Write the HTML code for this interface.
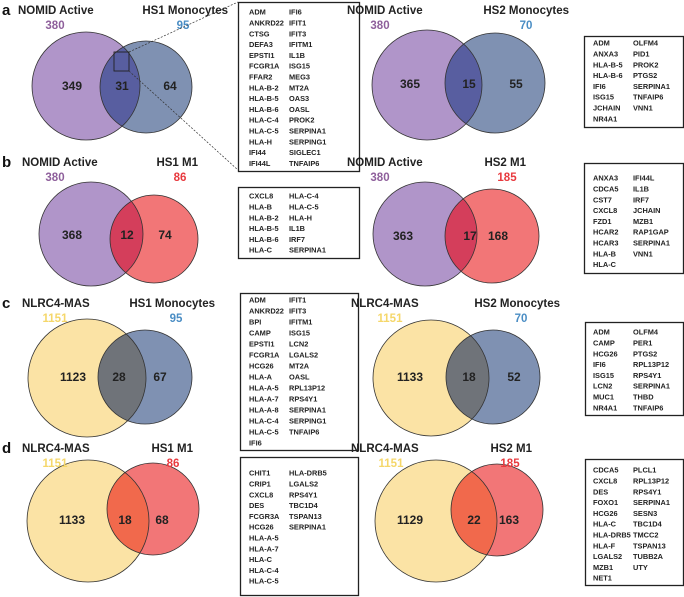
<!DOCTYPE html>
<html><head><meta charset="utf-8"><style>
html,body{margin:0;padding:0;background:#fff}
svg{display:block;font-family:"Liberation Sans",sans-serif}
</style></head><body>
<svg id="fig" width="684" height="597" viewBox="0 0 684 597" xmlns="http://www.w3.org/2000/svg"></svg>
<script>
// ---- data ----
const leftLabels = ["NOMID Active","NOMID Active","NLRC4-MAS","NLRC4-MAS","NOMID Active","NOMID Active","NLRC4-MAS","NLRC4-MAS"];
const rightLabels = ["HS1 Monocytes","HS1 M1","HS1 Monocytes","HS1 M1","HS2 Monocytes","HS2 M1","HS2 Monocytes","HS2 M1"];
const leftTotals = [380,380,1151,1151,380,380,1151,1151];
const rightTotals = [95,86,95,86,70,185,70,185];
const leftOnly = [349,368,1123,1133,365,363,1133,1129];
const overlap = [31,12,28,18,15,17,18,22];
const rightOnly = [64,74,67,68,55,168,52,163];
const geneLists = [
 ["ADM","IFI6","ANKRD22","IFIT1","CTSG","IFIT3","DEFA3","IFITM1","EPSTI1","IL1B","FCGR1A","ISG15","FFAR2","MEG3","HLA-B-2","MT2A","HLA-B-5","OAS3","HLA-B-6","OASL","HLA-C-4","PROK2","HLA-C-5","SERPINA1","HLA-H","SERPING1","IFI44","SIGLEC1","IFI44L","TNFAIP6"],
 ["CXCL8","HLA-C-4","HLA-B","HLA-C-5","HLA-B-2","HLA-H","HLA-B-5","IL1B","HLA-B-6","IRF7","HLA-C","SERPINA1"],
 ["ADM","IFIT1","ANKRD22","IFIT3","BPI","IFITM1","CAMP","ISG15","EPSTI1","LCN2","FCGR1A","LGALS2","HCG26","MT2A","HLA-A","OASL","HLA-A-5","RPL13P12","HLA-A-7","RPS4Y1","HLA-A-8","SERPINA1","HLA-C-4","SERPING1","HLA-C-5","TNFAIP6","IFI6",""],
 ["CHIT1","HLA-DRB5","CRIP1","LGALS2","CXCL8","RPS4Y1","DES","TBC1D4","FCGR3A","TSPAN13","HCG26","SERPINA1","HLA-A-5","","HLA-A-7","","HLA-C","","HLA-C-4","","HLA-C-5",""],
 ["ADM","OLFM4","ANXA3","PID1","HLA-B-5","PROK2","HLA-B-6","PTGS2","IFI6","SERPINA1","ISG15","TNFAIP6","JCHAIN","VNN1","NR4A1",""],
 ["ANXA3","IFI44L","CDCA5","IL1B","CST7","IRF7","CXCL8","JCHAIN","FZD1","MZB1","HCAR2","RAP1GAP","HCAR3","SERPINA1","HLA-B","VNN1","HLA-C",""],
 ["ADM","OLFM4","CAMP","PER1","HCG26","PTGS2","IFI6","RPL13P12","ISG15","RPS4Y1","LCN2","SERPINA1","MUC1","THBD","NR4A1","TNFAIP6"],
 ["CDCA5","PLCL1","CXCL8","RPL13P12","DES","RPS4Y1","FOXO1","SERPINA1","HCG26","SESN3","HLA-C","TBC1D4","HLA-DRB5","TMCC2","HLA-F","TSPAN13","LGALS2","TUBB2A","MZB1","UTY","NET1",""]
];
const panelLetters = ["a","b","c","d"];
// ---- layout (not data) ----
const L = [
 {lc:[86,86,54],rc:[146,87,46],t:[18,14,55,228,183],n:[72,122,170,86],box:[238,2,121,169,12,249,289,10.8]},
 {lc:[91,234,52],rc:[154,239,44],t:[22,166,55,198,180],n:[72,127,165,235],box:[238,187,121,71,196,249,289,10.8]},
 {lc:[87,378,59],rc:[145,377,47],t:[22,307,55,215,176],n:[73,119,160,377],box:[240,293,118,157,300,249,289,11]},
 {lc:[88,521,61],rc:[153,509,46],t:[22,452,55,193,173],n:[72,125,162,520],box:[240,457,118,138,473,249,289,10.8]},
 {lc:[427,85,55],rc:[495,83,50],t:[347,14,380,569,526],n:[410,469,516,84],box:[584,36,99,91,43,593,633,10.8]},
 {lc:[425,234,52],rc:[492,236,47],t:[347,166,380,526,507],n:[403,470,498,236],box:[584,163,99,110,178,593,633,10.8]},
 {lc:[431,378,58],rc:[493,377,47],t:[351,307,390,560,521],n:[410,469,514,377],box:[585,322,98,93,332,593,633,10.8]},
 {lc:[436,521,61],rc:[497,510,46],t:[351,452,391,532,510],n:[410,474,509,520],box:[585,459,98,126,470,593,633,10.8]}
];
const NS="http://www.w3.org/2000/svg";
const svg=document.getElementById('fig');
function mk(tag,attrs,parent){const e=document.createElementNS(NS,tag);for(const k in attrs)e.setAttribute(k,attrs[k]);(parent||svg).appendChild(e);return e;}
const defs=mk('defs',{});
for(let i=0;i<8;i++){
 const g=L[i];
 const isNlrc=leftLabels[i].startsWith("NLRC4");
 const isM1=rightLabels[i].indexOf("M1")>=0;
 const lFill=isNlrc?"#fbe3a5":"#b095c9";
 const rFill=isM1?"#f27677":"#7f91b2";
 let oFill;
 if(isNlrc) oFill=isM1?"#f1694c":"#6f7379"; else oFill=isM1?"#d43e5b":"#585ea0";
 const lColor=isNlrc?"#f5d76a":"#8e5f9b";
 const rColor=isM1?"#e8393e":"#4a8dc4";
 const grp=mk('g',{});
 
 
 const c1=mk('circle',{cx:g.lc[0],cy:g.lc[1],r:g.lc[2],fill:lFill},grp);
 
 
 const c2=mk('circle',{cx:g.rc[0],cy:g.rc[1],r:g.rc[2],fill:rFill},grp);
 
 
 const cp=mk('clipPath',{id:'cp'+i},defs);
 mk('circle',{cx:g.lc[0],cy:g.lc[1],r:g.lc[2]},cp);
 const ov=mk('circle',{cx:g.rc[0],cy:g.rc[1],r:g.rc[2],fill:oFill,'clip-path':'url(#cp'+i+')'},grp);
 
 
 mk('circle',{cx:g.lc[0],cy:g.lc[1],r:g.lc[2],fill:'none',stroke:'#333','stroke-width':0.8},grp);
 mk('circle',{cx:g.rc[0],cy:g.rc[1],r:g.rc[2],fill:'none',stroke:'#333','stroke-width':0.8},grp);
 const t=g.t;
 const lt=mk('text',{x:t[0],y:t[1],'font-size':11.5,'font-weight':'bold',fill:'#222'},grp);lt.textContent=leftLabels[i];
 
 
 const ltot=mk('text',{x:t[2],y:t[1]+15,'font-size':11.5,'font-weight':'bold',fill:lColor,'text-anchor':'middle'},grp);ltot.textContent=leftTotals[i];
 
 
 const rt=mk('text',{x:t[3],y:t[1],'font-size':11.5,'font-weight':'bold',fill:'#222','text-anchor':'end'},grp);rt.textContent=rightLabels[i];
 
 
 const rtot=mk('text',{x:t[4],y:t[1]+15,'font-size':11.5,'font-weight':'bold',fill:rColor,'text-anchor':'middle'},grp);rtot.textContent=rightTotals[i];
 
 
 const nums=[leftOnly[i],overlap[i],rightOnly[i]];
 const nn=['left-only-count','overlap-count','right-only-count'];
 for(let k=0;k<3;k++){
  const nt=mk('text',{x:g.n[k],y:g.n[3]+4,'font-size':12,'font-weight':'bold',fill:'#222','text-anchor':'middle'},grp);
  nt.textContent=nums[k];
  
  
 }
 const b=g.box;
 const bg=mk('g',{});
 
 
 mk('rect',{x:b[0]+0.5,y:b[1]+0.5,width:b[2],height:b[3],fill:'#fff',stroke:'#222','stroke-width':1.3},bg);
 const genes=geneLists[i];
 for(let j=0;j<genes.length;j++){
  if(!genes[j])continue;
  const row=Math.floor(j/2),col=j%2;
  const gt=mk('text',{x:col?b[6]:b[5],y:b[4]+row*b[7]+2.7,'font-size':7.4,'font-weight':'bold',fill:'#222'},bg);
  gt.textContent=genes[j];
  
  
 }
}
for(let p=0;p<4;p++){
 const lt=mk('text',{x:2,y:L[p].t[1]+1,'font-size':15,'font-weight':'bold',fill:'#111'});
 lt.textContent=panelLetters[p];
 
 
}
// zoom indicator
const zr=mk('rect',{x:114,y:52,width:15,height:19,fill:'none',stroke:'#222','stroke-width':0.9});


const z1=mk('line',{x1:129,y1:52,x2:238,y2:2,stroke:'#333','stroke-width':0.7,'stroke-dasharray':'2,1.5'});


const z2=mk('line',{x1:129,y1:71,x2:238,y2:170,stroke:'#333','stroke-width':0.7,'stroke-dasharray':'2,1.5'});


</script>
</body></html>
